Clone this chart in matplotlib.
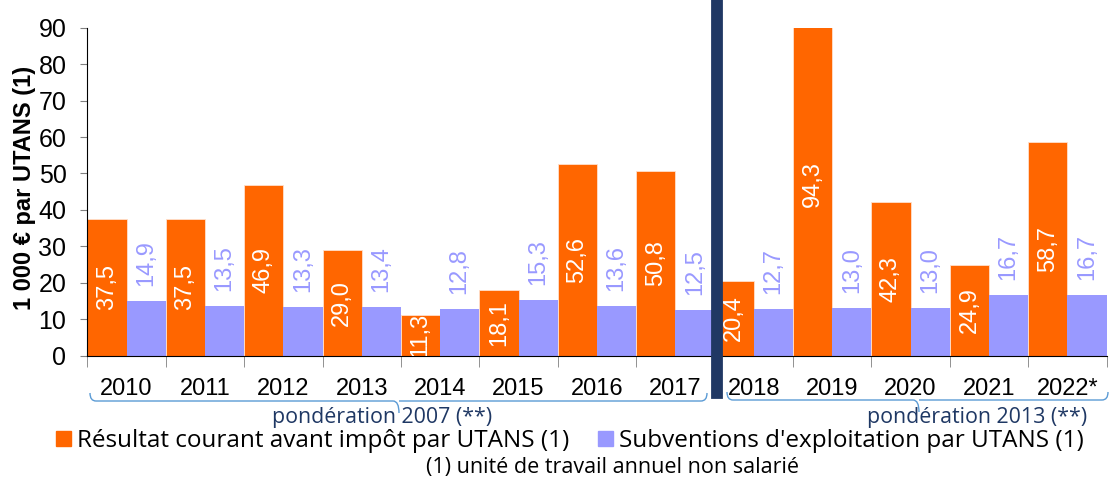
import matplotlib.pyplot as plt
import numpy as np
from matplotlib.patches import Patch, PathPatch
from matplotlib.path import Path

years = ["2010", "2011", "2012", "2013", "2014", "2015", "2016", "2017",
         "2018", "2019", "2020", "2021", "2022*"]
resultat = [37.5, 37.5, 46.9, 29.0, 11.3, 18.1, 52.6, 50.8, 20.4, 94.3, 42.3, 24.9, 58.7]
subventions = [14.9, 13.5, 13.3, 13.4, 12.8, 15.3, 13.6, 12.5, 12.7, 13.0, 13.0, 16.7, 16.7]
y_ticks = [0, 10, 20, 30, 40, 50, 60, 70, 80, 90]

orange = '#FF6600'
violet = '#9999FF'
navy = '#203864'
W, H = 1110, 480

sans = ['Open Sans', 'DejaVu Sans']
plt.rcParams['font.family'] = ['Liberation Sans', 'DejaVu Sans']

fig = plt.figure(figsize=(W / 100, H / 100), dpi=100)
ax = fig.add_axes([87.3 / W, 1 - 355.7 / H, (1106.6 - 87.3) / W, (355.7 - 27.7) / H])

x = np.arange(len(years))
ax.bar(x - 0.25, resultat, width=0.5, color=orange, edgecolor='#FFE0CC', linewidth=0.6)
ax.bar(x + 0.25, subventions, width=0.5, color=violet, linewidth=0)

fmt = lambda v: f"{v:.1f}".replace('.', ',')
for xi, v in zip(x, resultat):
    ax.text(xi - 0.25, v / 2, fmt(v), rotation=90, ha='center', va='center',
            color='white', fontsize=17, clip_on=True)
for xi, v in zip(x, subventions):
    ax.annotate(fmt(v), (xi + 0.25, v), xytext=(0, 11), textcoords='offset points',
                rotation=90, ha='center', va='bottom', color=violet, fontsize=17)

ax.set_xlim(-0.5, len(years) - 0.5)
ax.set_ylim(0, 90)
ax.set_yticks(y_ticks)
ax.tick_params(axis='y', labelsize=18, length=5, color='#808080', pad=10)
ax.set_xticks(x)
ax.set_xticklabels(years, fontsize=17)
ax.tick_params(axis='x', length=0, pad=16)
ax.set_xticks(np.arange(len(years) + 1) - 0.5, minor=True)
ax.tick_params(axis='x', which='minor', length=8, color='#808080')
for s in ['top', 'right']:
    ax.spines[s].set_visible(False)
ax.spines['left'].set_color('black')
ax.spines['bottom'].set_color('black')

fig.text(25 / W, 1 - 188 / H, "1 000 € par UTANS (1)", rotation=90, ha='center', va='center',
         fontsize=17, fontweight='bold')

# separation between the two weightings
ax.axvline(7.53, ymin=(355.7 - 393) / 328, ymax=(355.7 - 4) / 328, color=navy, lw=8.5,
           clip_on=False, zorder=5)


def brace(x0, x1, xm, y, h):
    p = lambda px, py: (px / W, 1 - py / H)
    r = 6
    verts = [p(x0, y - h), p(x0, y), p(x0 + r, y),
             p(xm - r, y), p(xm, y), p(xm, y + h + 4),
             p(xm, y), p(xm + r, y),
             p(x1 - r, y), p(x1, y), p(x1, y - h)]
    codes = [Path.MOVETO, Path.CURVE3, Path.CURVE3,
             Path.LINETO, Path.CURVE3, Path.CURVE3,
             Path.MOVETO, Path.LINETO,
             Path.LINETO, Path.CURVE3, Path.CURVE3]
    fig.add_artist(PathPatch(Path(verts, codes), transform=fig.transFigure,
                             fill=False, edgecolor='#5B9BD5', lw=1))


brace(90, 707, 399, 401, 8)
brace(727, 1108, 919, 400, 8)
fig.text(382 / W, 1 - 418 / H, "pondération 2007 (**)", ha='center', va='center',
         fontsize=15.4, color='#1F3864', family=sans)
fig.text(977 / W, 1 - 418 / H, "pondération 2013 (**)", ha='center', va='center',
         fontsize=15.4, color='#1F3864', family=sans)

handles = [Patch(color=orange, label="Résultat courant avant impôt par UTANS (1)"),
           Patch(color=violet, label="Subventions d'exploitation par UTANS (1)")]
fig.legend(handles=handles, loc='center', bbox_to_anchor=(570 / W, 1 - 441 / H), ncol=2,
           frameon=False, prop={'family': sans, 'size': 17.5},
           handlelength=0.6, handleheight=0.6, handletextpad=0.25, columnspacing=1.2,
           borderpad=0, borderaxespad=0)
fig.text(612 / W, 1 - 468 / H, "(1) unité de travail annuel non salarié", ha='center', va='center',
         fontsize=15.5, family=sans)

fig.savefig('out.png', dpi=100)
